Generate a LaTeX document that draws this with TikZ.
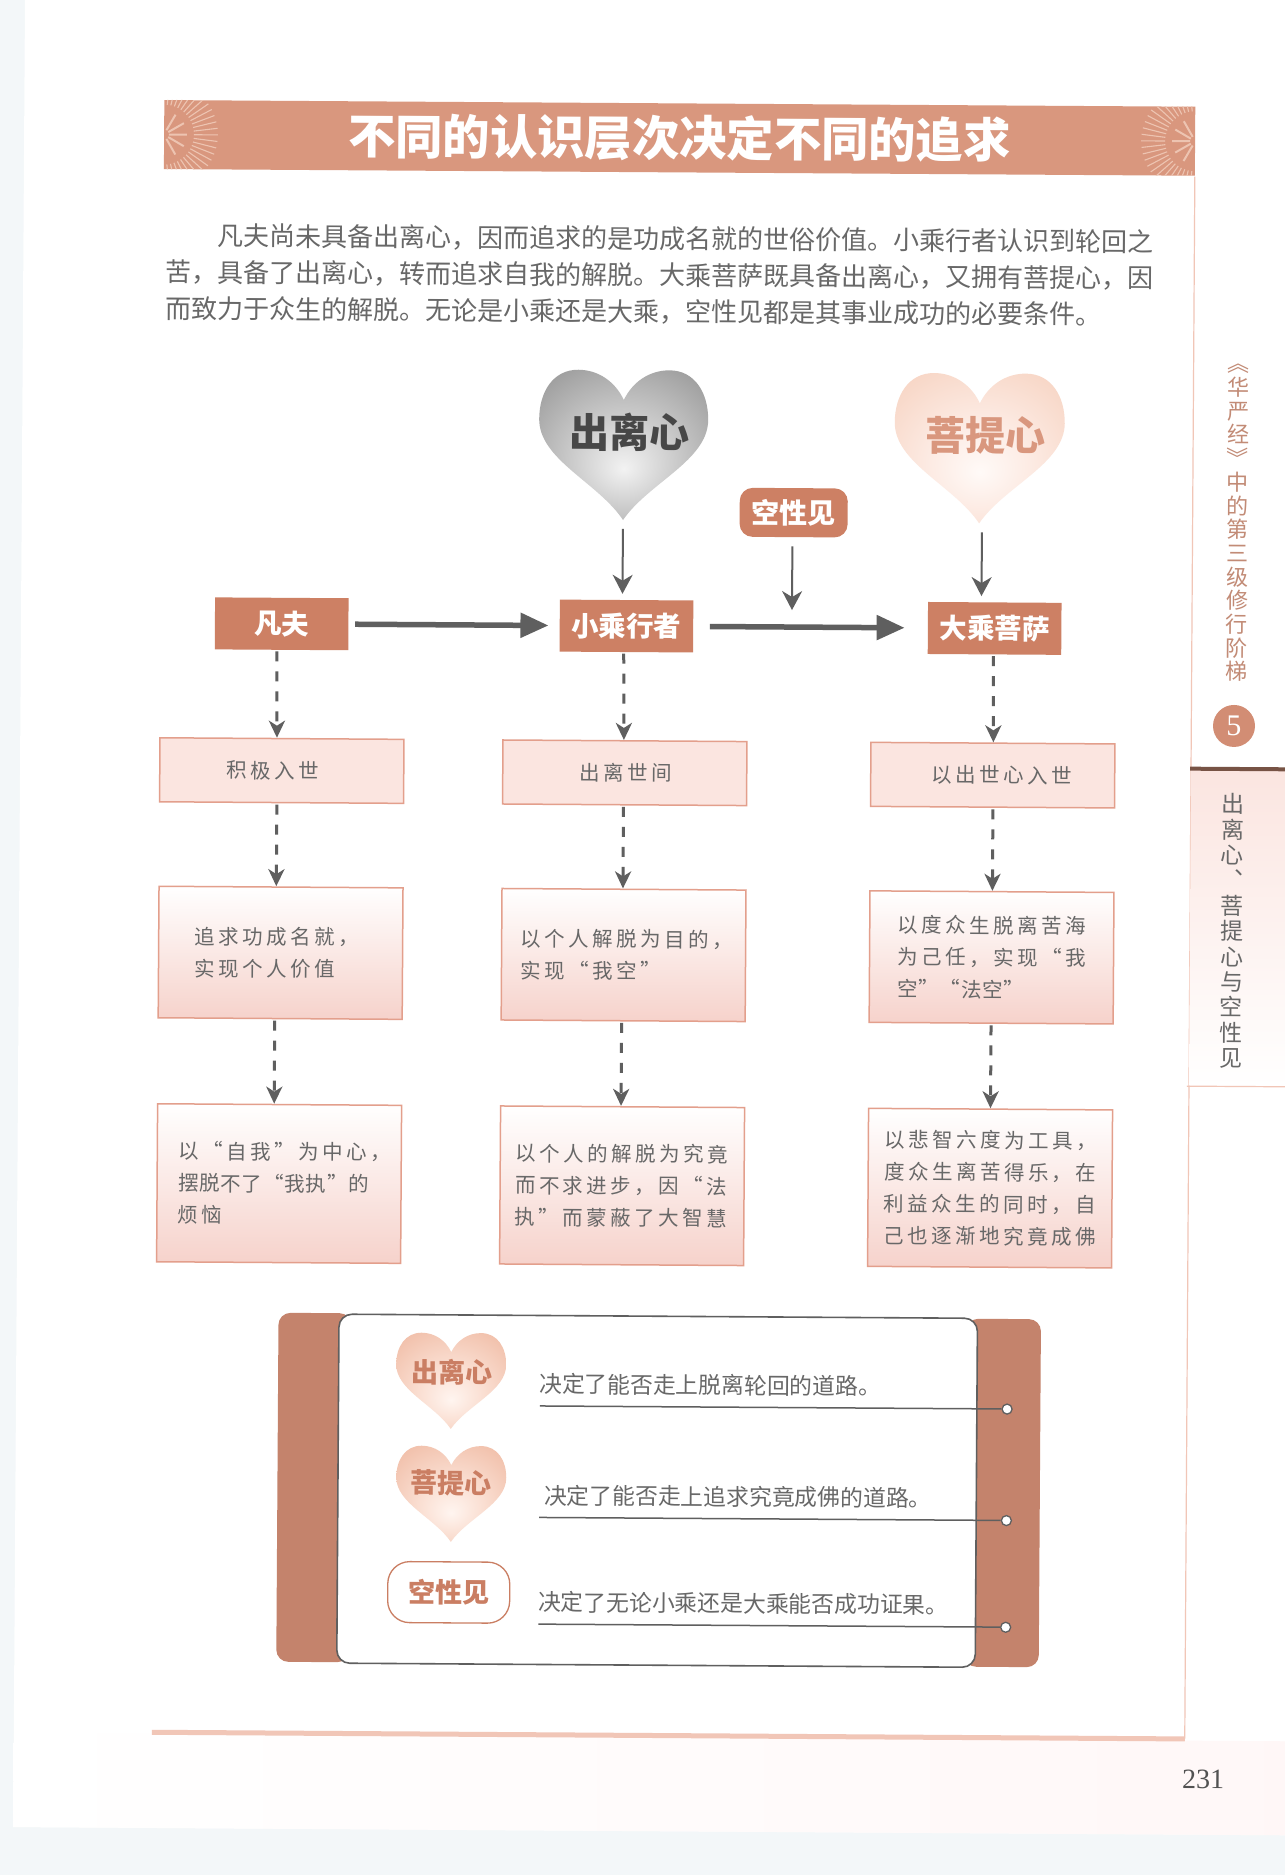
\documentclass[tikz,border=0pt]{standalone}
\usepackage{fontspec}
\setmainfont{Noto Sans CJK SC}
\newfontfamily\spcfont[LetterSpace=17]{Noto Sans CJK SC}
\newfontfamily\tightfont[LetterSpace=4]{Noto Sans CJK SC}
\newfontfamily\numfont{Liberation Serif}
\newcommand\fc{\char"FF0C\relax}
\usetikzlibrary{arrows.meta}
\definecolor{pagebg}{HTML}{F3F7F9}
\definecolor{bannerc}{HTML}{D9977E}
\definecolor{headc}{HTML}{CD8064}
\definecolor{sidec}{HTML}{C4836C}
\definecolor{boxedge}{HTML}{E39F8C}
\definecolor{boxlow}{HTML}{F6D2CB}
\definecolor{boxflat}{HTML}{FBE5E0}
\definecolor{raysc}{HTML}{EDC4B1}
\definecolor{framec}{HTML}{F1C6B7}
\definecolor{textg}{HTML}{686868}
\definecolor{arrowg}{HTML}{5F5F5F}
\definecolor{rosetext}{HTML}{CA7E63}
\pgfdeclareradialshading{grayheart}{\pgfpoint{0bp}{-8bp}}{rgb(0bp)=(.95,.95,.95);rgb(12bp)=(.83,.83,.83);rgb(42bp)=(.53,.53,.53);rgb(50bp)=(.47,.47,.47)}
\pgfdeclareradialshading{pinkheart}{\pgfpoint{0bp}{-8bp}}{rgb(0bp)=(1,.98,.97);rgb(15bp)=(.99,.92,.89);rgb(42bp)=(.96,.80,.72);rgb(50bp)=(.94,.76,.68)}
\pgfdeclareradialshading{roseheart}{\pgfpoint{0bp}{-10bp}}{rgb(0bp)=(1,.96,.94);rgb(15bp)=(.98,.87,.82);rgb(42bp)=(.93,.70,.60);rgb(50bp)=(.91,.66,.56)}
\tikzset{
	heartshape/.pic={
		\shade[shading=#1] (0,.2) .. controls (-.05,.08) and (-.15,0) .. (-.27,0)
			.. controls (-.42,0) and (-.5,.15) .. (-.5,.33)
			.. controls (-.5,.6) and (-.15,.75) .. (0,1)
			.. controls (.15,.75) and (.5,.6) .. (.5,.33)
			.. controls (.5,.15) and (.42,0) .. (.27,0)
			.. controls (.15,0) and (.05,.08) .. (0,.2) -- cycle;
		\coordinate (-tip) at (0,1);
	},
	headbox/.style={fill=headc,text=white,minimum width=133.5pt,minimum height=52pt,inner sep=0pt,font=\bfseries\fontsize{27.5}{30}\selectfont},
	stepbox/.style={draw=boxedge,line width=1.5pt,anchor=north west,align=left,inner ysep=0pt,text=textg,font=\spcfont\fontsize{20.5}{32}\selectfont,inner xsep=#1pt,text width=244pt-2*#1pt},
	flatbox/.style={stepbox=#1,fill=boxflat,minimum height=64pt},
	midbox/.style={stepbox=#1,top color=white,bottom color=boxlow,minimum height=131.5pt},
	lowbox/.style={stepbox=#1,top color=white,bottom color=boxlow,minimum height=158pt},
	thinarrow/.style={arrowg,line width=2pt,-{Stealth[length=19pt,width=20pt,inset=6pt]}},
	thickarrow/.style={arrowg,line width=5.5pt,-{Triangle[length=28pt,width=24pt]}},
	dasharrow/.style={arrowg,line width=3pt,dash pattern=on 10pt off 10pt,-{Stealth[length=17pt,width=16pt,inset=5pt]}},
	raymark/.style={raysc,line width=1.1pt},
	sidepanel/.style={fill=sidec,rounded corners=12pt},
	ruleline/.style={arrowg,line width=1.5pt},
	dotmark/.style={circle,draw=arrowg,fill=white,line width=1.3pt,minimum size=10pt,inner sep=0pt},
	notetext/.style={anchor=west,text=textg,inner sep=0pt,font=\fontsize{22.8}{26}\selectfont},
	smalltitle/.style={text=rosetext,inner sep=0pt,font=\bfseries\fontsize{27}{30}\selectfont}
}
\begin{document}
\begin{tikzpicture}[x=1pt,y=-1pt,line join=miter]
	\useasboundingbox (0,0) rectangle (1285,1875);
	\fill[pagebg] (0,0) rectangle (1285,1875);
	\begin{scope}[rotate=-0.37,every node/.style={transform shape}]
		\fill[white] (25,-20) rectangle (1300,1827);
		\shade[left color=white,right color=pink!12] (25,1733) rectangle (1300,1827);
		% top of the page
		\node[fill=bannerc,minimum width=1031pt,minimum height=69pt,inner sep=0pt,text=white,font=\bfseries\fontsize{47.3}{50}\selectfont] (banner) at (680.5,133.5) {不同的认识层次决定不同的追求};
		\begin{scope}
			\clip (banner.south west) rectangle (banner.north east);
			\foreach \a in {-84,-77,...,84} {
				\draw[raymark] (banner.west) ++(\a:30) -- ++(\a:24);
				\draw[raymark] (banner.east) ++(180+\a:30) -- ++(180+\a:24);
			}
			\foreach \a in {-60,-30,0,30,60} {
				\draw[raymark,line width=2pt] (banner.west) ++(\a:5) -- ++(\a:18);
				\draw[raymark,line width=2pt] (banner.east) ++(180+\a:5) -- ++(180+\a:18);
			}
		\end{scope}
		\node[anchor=west,align=left,inner sep=0pt,text=textg,font=\fontsize{26}{36.5}\selectfont] (intro) at (167,271) {\hspace*{52pt}凡夫尚未具备出离心\fc 因而追求的是功成名就的世俗价值。小乘行者认识到轮回之\\苦\fc 具备了出离心\fc 转而追求自我的解脱。大乘菩萨既具备出离心\fc 又拥有菩提心\fc 因\\而致力于众生的解脱。无论是小乘还是大乘\fc 空性见都是其事业成功的必要条件。};
		% hearts and heads
		\pic (heartgray) at (626.4pt,-366pt) [x=169pt,y=-150pt] {heartshape=grayheart};
		\pic (heartpink) at (982.5pt,-367pt) [x=170pt,y=-150pt] {heartshape=pinkheart};
		\node[inner sep=0pt,text=black!72,font=\bfseries\fontsize{40}{42}\selectfont] (chuli) at (632,428) {出离心};
		\node[inner sep=0pt,text=bannerc,font=\bfseries\fontsize{40}{42}\selectfont] (puti) at (988.8,429) {菩提心};
		\node[fill=headc,rounded corners=13pt,text=white,minimum width=108pt,minimum height=49pt,inner sep=0pt,font=\bfseries\fontsize{28}{30}\selectfont] (kongxing) at (797,507.5) {空性见};
		\coordinate (kongend) at (796,605);
		\node[headbox] (fanfu) at (285.7,622) {凡夫};
		\node[headbox] (xiaocheng) at (630.5,622) {小乘行者};
		\node[headbox] (dacheng) at (998.7,622) {大乘菩萨};
		\draw[thinarrow,shorten <=9pt,shorten >=6pt] (heartgray-tip) -- (heartgray-tip |- xiaocheng.north);
		\draw[thinarrow,shorten <=9pt,shorten >=6pt] (heartpink-tip) ++(3,0) coordinate (heartpinkoff) -- (heartpinkoff |- dacheng.north);
		\draw[thinarrow,shorten <=9pt] (kongxing.south -| kongend) -- (kongend);
		\draw[thickarrow,shorten <=6.5pt,shorten >=11pt] (fanfu) -- (xiaocheng);
		\draw[thickarrow,shorten <=16.5pt,shorten >=23pt] (xiaocheng) -- (dacheng);
		% three columns
		\node[flatbox=67] (jiji) at (164,736) {积极入世};
		\node[midbox=36] (zhuiqiu) at (164,884.5) {追求功成名就\fc\\实现个人价值};
		\node[lowbox=21] (ziwo) at (164,1102) {以“自我”为中心\fc\\{\tightfont 摆脱不了“我执”的}\\烦恼};
		\node[flatbox=77] (chushi) at (507,736) {出离世间};
		\node[midbox=19] (geren) at (507,884.5) {以个人解脱为目的\fc\\实现“我空”};
		\node[lowbox=15] (jiutuo) at (507,1102) {以个人的解脱为究竟\\而不求进步\fc 因“法\\执”而蒙蔽了大智慧};
		\node[flatbox=61] (yichu) at (875,736) {以出世心入世};
		\node[midbox=28] (duzhong) at (875,884.5) {以度众生脱离苦海\\为己任\fc 实现“我\\{\tightfont 空”“法空”}};
		\node[lowbox=16] (beizhi) at (875,1102) {以悲智六度为工具\fc\\度众生离苦得乐\fc 在\\利益众生的同时\fc 自\\己也逐渐地究竟成佛};
		\foreach \a/\b/\sa/\sb in {fanfu/jiji/-4.7/-5,jiji/zhuiqiu/-4.7/-4.7,zhuiqiu/ziwo/-5.4/-5.4,xiaocheng/chushi/-2.5/-1,chushi/geren/-1/-1,geren/jiutuo/-1.5/-1.5,dacheng/yichu/-1/0.5,yichu/duzhong/0.5/0.5,duzhong/beizhi/0/0}
			\draw[dasharrow,shorten <=1.5pt] ([xshift=\sa pt]\a.south) -- ([xshift=\sb pt]\b.north);
		% lower panel
		\fill[sidepanel] (287,1311) rectangle (360,1660);
		\fill[sidepanel] (975,1312.5) rectangle (1049.5,1660.5);
		\draw[fill=white,draw=arrowg,line width=1.6pt,rounded corners=13pt] (347.5,1312) rectangle (986,1661);
		\pic (heartchu) at (460pt,-1330pt) [x=110pt,y=-96pt] {heartshape=roseheart};
		\pic (heartbo) at (460.8pt,-1443pt) [x=110pt,y=-96pt] {heartshape=roseheart};
		\node[smalltitle] (chusmall) at (461,1369) {出离心};
		\node[smalltitle] (bosmall) at (461,1480) {菩提心};
		\node[smalltitle,draw=rosetext,line width=1.3pt,rounded corners=22pt,minimum width=122pt,minimum height=61pt,fill=white] (kongsmall) at (459,1589.5) {空性见};
		\node[notetext] (notea) at (548,1380.5) {决定了能否走上脱离轮回的道路。};
		\node[notetext] (noteb) at (553.7,1492) {决定了能否走上追求究竟成佛的道路。};
		\node[notetext] (notec) at (548.4,1598.6) {决定了无论小乘还是大乘能否成功证果。};
		\foreach \n/\y in {a/1402.6,b/1514.1,c/1620.8} {
			\coordinate (rule\n) at (549,\y);
			\node[dotmark] (dot\n) at (1016.2,\y) {};
			\draw[ruleline] (rule\n) -- (dot\n);
		}
		% page frame and side strip
		\draw[framec,line width=1.2pt] (1196,169) -- (1196,1731);
		\draw[framec,line width=5pt] (163,1731.3) -- (1196,1731.3);
		\node[inner sep=0pt,text=black!68,font=\numfont\fontsize{28}{30}\selectfont] (pageno) at (1214.6,1772) {231};
		\node[align=center,inner sep=0pt,text=bannerc!88!black!95,font=\fontsize{22}{23.7}\selectfont] (chapter) at (1241,515) {︽\\华\\严\\经\\︾\\中\\的\\第\\三\\级\\修\\行\\阶\\梯};
		\node[circle,fill=headc!90!white,minimum size=42pt,inner sep=0pt,text=white,font=\numfont\fontsize{30}{32}\selectfont] (chapno) at (1238.7,718) {5};
		\shade[top color=boxflat,bottom color=white] (1196,761) rectangle (1300,1078);
		\draw[black!45!bannerc,line width=4pt] (1195,761) -- (1300,761);
		\draw[framec,line width=1.2pt] (1194,1078.5) -- (1300,1078.5);
		\node[align=center,inner sep=0pt,text=textg,font=\fontsize{23}{25.4}\selectfont] (section) at (1238,923) {出\\离\\心\\︑\\菩\\提\\心\\与\\空\\性\\见};
	\end{scope}
\end{tikzpicture}
\end{document}
